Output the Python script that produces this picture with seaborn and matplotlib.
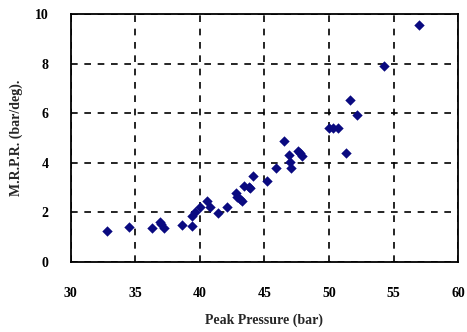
import matplotlib
matplotlib.use("Agg")
import matplotlib.pyplot as plt
import seaborn as sns
import pandas as pd

peak_pressure = [32.8, 34.5, 36.3, 36.9, 37.0, 37.2, 38.6, 39.4, 39.4, 39.6,
                 40.0, 40.6, 40.8, 41.4, 42.1, 42.8, 42.9, 43.1, 43.3, 43.4,
                 43.8, 43.9, 44.1, 45.2, 45.9, 46.5, 46.9, 47.0, 47.1, 47.6,
                 47.8, 47.9, 50.0, 50.3, 50.7, 51.3, 51.6, 52.2, 54.3, 57.0]
mrpr = [1.24, 1.39, 1.35, 1.62, 1.52, 1.35, 1.48, 1.42, 1.86, 2.0,
        2.2, 2.45, 2.22, 1.95, 2.2, 2.76, 2.6, 2.52, 2.47, 3.07,
        3.03, 2.96, 3.46, 3.26, 3.77, 4.89, 4.3, 4.02, 3.77, 4.49,
        4.38, 4.25, 5.42, 5.42, 5.42, 4.41, 6.54, 5.93, 7.92, 9.57]
x_ticks = [30, 35, 40, 45, 50, 55, 60]
y_ticks = [0, 2, 4, 6, 8, 10]

df = pd.DataFrame({"Peak Pressure (bar)": peak_pressure, "MRPR": mrpr})

sns.set_style("white")
plt.rcParams["font.family"] = ["Liberation Serif", "DejaVu Serif"]

fig = plt.figure(figsize=(4.67, 3.32), dpi=100)
ax = fig.add_axes([0.151, 0.212, 0.830, 0.745])

sns.scatterplot(data=df, x="Peak Pressure (bar)", y="MRPR", ax=ax,
                marker="D", s=28, color="#0a0a80", edgecolor="#0a0a80",
                linewidth=0, zorder=3)

ax.set_xlim(30, 60)
ax.set_ylim(0, 10)
ax.set_xticks(x_ticks)
ax.set_yticks(y_ticks)
ax.set_xticklabels([str(t) for t in x_ticks], fontsize=10, fontweight="bold")
ax.set_yticklabels([str(t) for t in y_ticks], fontsize=10, fontweight="bold")
ax.grid(True, color="black", linestyle=(0, (4, 4)), linewidth=1.2)
ax.tick_params(axis="both", direction="in", length=4, width=1.2,
               colors="black", pad=18)
ax.tick_params(axis="y", pad=16)
for s in ax.spines.values():
    s.set_color("black")
    s.set_linewidth(1.3)
    s.set_visible(True)

ax.set_xlabel("Peak Pressure (bar)", fontsize=10, fontweight="bold", labelpad=10)
ax.set_ylabel("M.R.P.R. (bar/deg).", fontsize=10, fontweight="bold", labelpad=8)

fig.savefig("out.png", dpi=100)
